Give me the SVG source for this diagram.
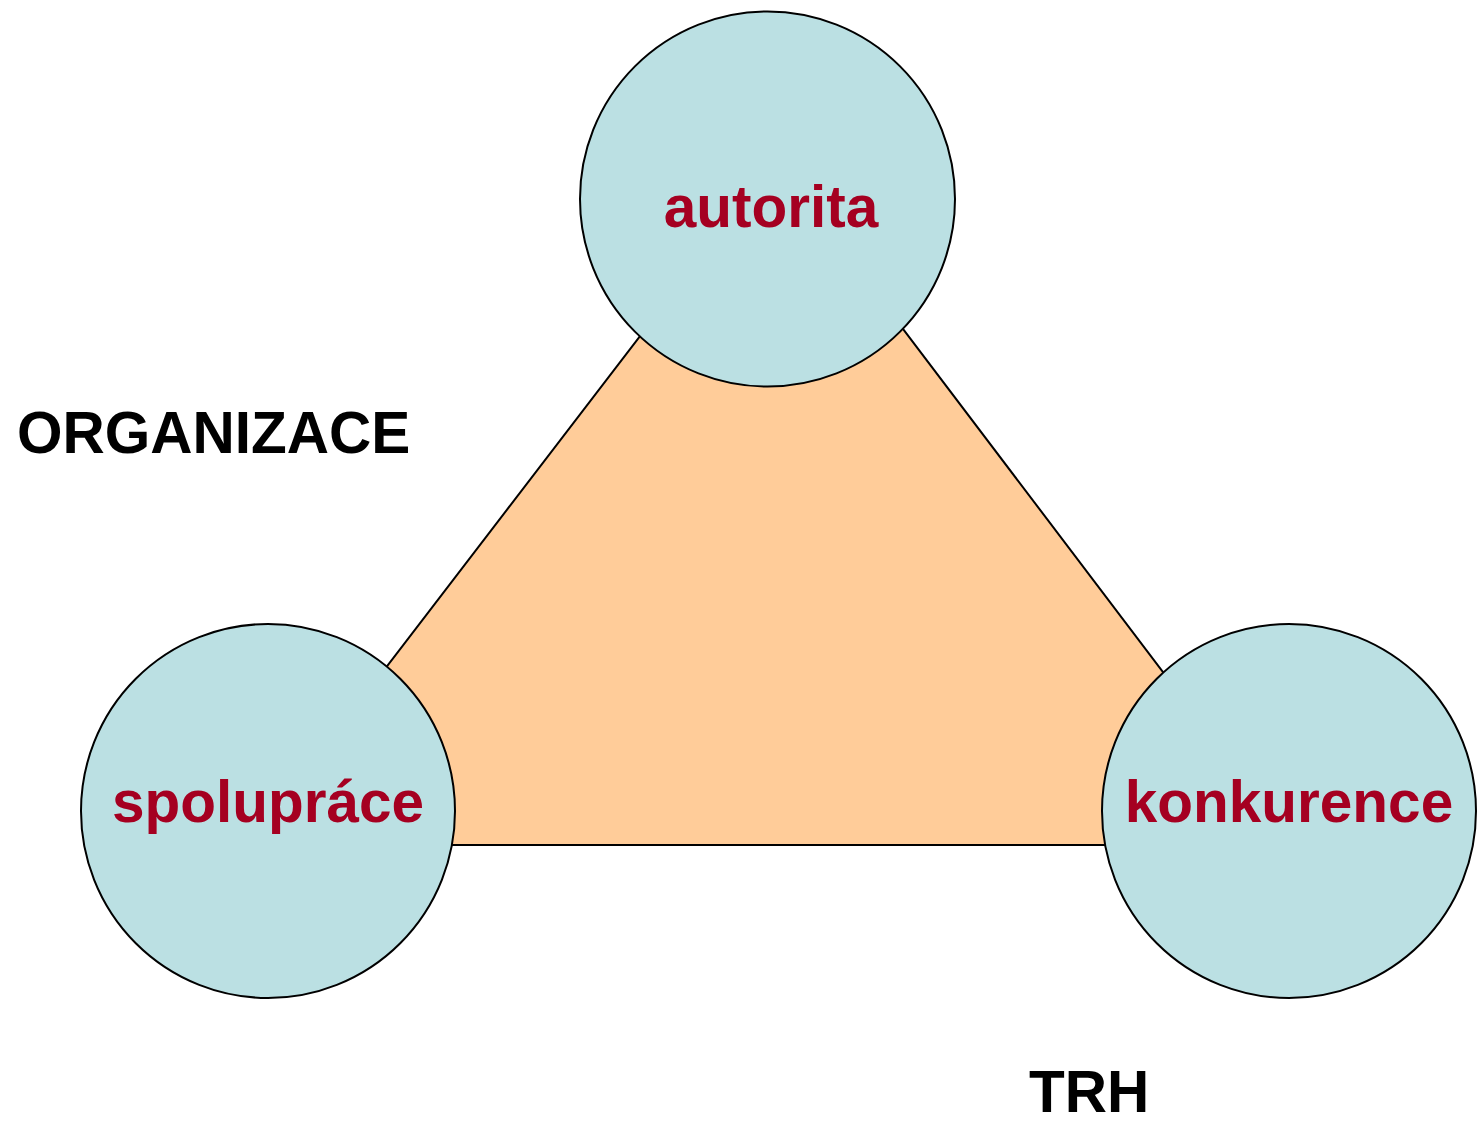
<svg xmlns="http://www.w3.org/2000/svg" width="1483" height="1127" viewBox="0 0 1483 1127">
<style>
.node circle{fill:#BBE0E3;stroke:#000;stroke-width:2}
.lbl{font-family:"Liberation Sans",Arial,sans-serif;font-weight:bold;font-size:58.5px;fill:#A50021;text-anchor:middle}
.side{font-family:"Liberation Sans",Arial,sans-serif;font-weight:bold;font-size:58.5px;fill:#000}
</style>
<rect width="1483" height="1127" fill="#fff"/>
<g id="connectors">
<polygon points="775,160 250,845 1294,845" fill="#FFCC99" stroke="#000" stroke-width="2"/>
</g>
<g id="autorita" class="node">
<circle cx="767.5" cy="199" r="187.5"/>
<text class="lbl" x="771" y="227">autorita</text>
</g>
<g id="spoluprace" class="node">
<circle cx="268" cy="811" r="187"/>
<text class="lbl" x="268" y="822">spolupráce</text>
</g>
<g id="konkurence" class="node">
<circle cx="1289" cy="811" r="187"/>
<text class="lbl" x="1289" y="822">konkurence</text>
</g>
<g id="organizace">
<text class="side" x="17" y="453">ORGANIZACE</text>
</g>
<g id="trh">
<text class="side" x="1029" y="1112">TRH</text>
</g>
</svg>
